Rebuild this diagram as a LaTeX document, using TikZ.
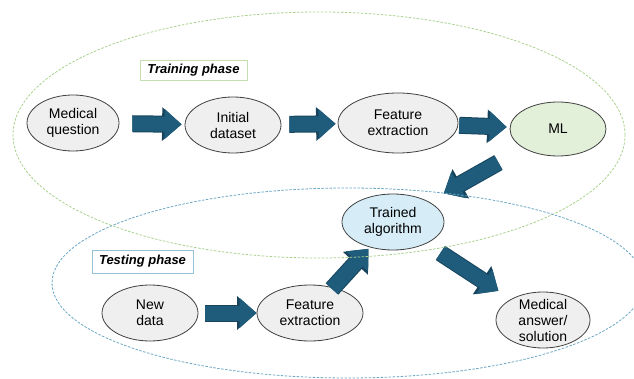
\documentclass[tikz,border=0pt]{standalone}
\usepackage{fontspec}
\setmainfont{Liberation Sans}
\usepackage{tikz}
\usetikzlibrary{arrows.meta, positioning, shapes.geometric}
\usepackage{xcolor}
\definecolor{arrowblue}{HTML}{1F5C7C}
\definecolor{arrowdark}{HTML}{17445C}
\definecolor{stagegray}{HTML}{EFEFEF}
\definecolor{stageline}{HTML}{404040}
\definecolor{mlgreen}{HTML}{E2F0D9}
\definecolor{algoblue}{HTML}{D6EDF8}
\definecolor{traingreen}{HTML}{A9D18E}
\definecolor{testblue}{HTML}{6AA6C4}
\tikzset{%
	every stage/.style={
		ellipse,
		draw=stageline,
		fill=stagegray,
		line width=0.8pt,
		inner sep=0pt,
		align=center,
		font=\fontsize{14}{16}\selectfont
	},
	block arrow/.style={
		draw=arrowblue,
		line width=15pt,
		-{Triangle[length=17pt, width=29pt]},
		preaction={draw=arrowdark, line width=17pt, -{Triangle[length=19.5pt, width=32.5pt]}}
	},
	phase label/.style={
		draw,
		line width=0.8pt,
		inner sep=2pt,
		font=\fontsize{13}{15}\selectfont\bfseries\itshape
	},
	phase outline/.style={
		line width=0.8pt,
		dash pattern=on 2.5pt off 1.5pt
	},
}

\begin{document}
\begin{tikzpicture}[x=1pt, y=-1pt]
			\useasboundingbox (0,0) rectangle (634,379);
			
			% Training stages
			\node[every stage, minimum width=92pt, minimum height=56pt] (question) at (73,123) {Medical\\question};
			\node[every stage, minimum width=96pt, minimum height=56pt] (dataset) at (233,125) {Initial\\dataset};
			\node[every stage, minimum width=120pt, minimum height=60pt] (feature) at (398,123) {Feature\\extraction};
			\node[every stage, fill=mlgreen, minimum width=96pt, minimum height=54pt] (ml) at (558,129) {ML};
			
			% Testing stages
			\node[every stage, fill=algoblue, minimum width=102pt, minimum height=56pt] (trained) at (393,222) {Trained\\algorithm};
			\node[every stage, minimum width=96pt, minimum height=56pt] (newdata) at (150,313) {New\\data};
			\node[every stage, minimum width=106pt, minimum height=56pt] (feature2) at (310,313) {Feature\\extraction};
			\node[every stage, inner ysep=-8pt, minimum width=94pt, minimum height=56pt] (answer) at (543,320) {Medical\\answer/\\solution};
			
			% Block arrows
			\draw[block arrow, shorten <=13pt, shorten >=3pt] (question) -- (dataset);
			\draw[block arrow, shorten <=8pt, shorten >=2pt] (dataset) -- (feature);
			\draw[block arrow, shorten <=1pt, shorten >=3pt] (feature) -- (ml);
			\draw[block arrow, shorten <=29pt, shorten >=17pt] (ml) -- (trained);
			\draw[block arrow, shorten <=7pt, shorten >=0pt] (newdata) -- (feature2);
			\draw[block arrow, shorten <=-2pt, shorten >=2pt] (feature2) -- (trained);
			\draw[block arrow, shorten <=17pt, shorten >=15pt] (trained) -- (answer);
			
			% Phase outlines
			\draw[phase outline, traingreen] (319,135) ellipse [x radius=306pt, y radius=123pt];
			\draw[phase outline, testblue] (348,283) ellipse [x radius=296pt, y radius=95pt];
			
			% Phase labels
			\node[phase label, draw=traingreen!70, minimum width=107pt, minimum height=20pt] (trainlabel) at (193.5,70) {Training phase};
			\node[phase label, draw=testblue!70, minimum width=101pt, minimum height=23pt] (testlabel) at (142.5,261.5) {Testing phase};
			
		\end{tikzpicture}
\end{document}
